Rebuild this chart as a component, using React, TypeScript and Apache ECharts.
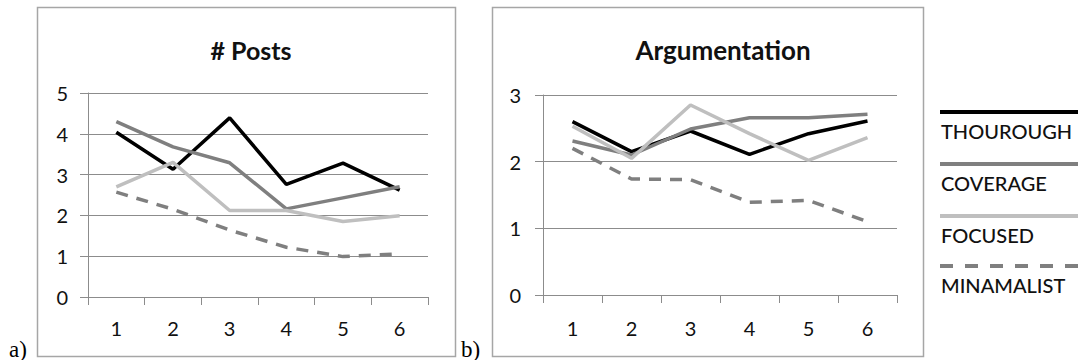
import React, { useEffect, useRef } from "react";
import * as echarts from "echarts";

const categories = ["1", "2", "3", "4", "5", "6"];
const seriesNames = ["THOUROUGH", "COVERAGE", "FOCUSED", "MINAMALIST"];
const chartTitles = ["# Posts", "Argumentation"];
const panelLabels = ["a)", "b)"];

const postsThourough = [4.04, 3.13, 4.39, 2.76, 3.28, 2.62];
const postsCoverage = [4.3, 3.68, 3.29, 2.16, 2.43, 2.7];
const postsFocused = [2.7, 3.3, 2.12, 2.12, 1.85, 1.99];
const postsMinamalist = [2.57, 2.15, 1.64, 1.22, 0.99, 1.06];

const argThourough = [2.6, 2.15, 2.46, 2.11, 2.42, 2.61];
const argCoverage = [2.31, 2.1, 2.49, 2.66, 2.66, 2.71];
const argFocused = [2.53, 2.05, 2.85, 2.42, 2.02, 2.36];
const argMinamalist = [2.2, 1.74, 1.73, 1.39, 1.42, 1.1];

const postsMax = 5;
const argMax = 3;

const lineStyles = [
  { color: "#000000", type: "solid" as const },
  { color: "#7f7f7f", type: "solid" as const },
  { color: "#bfbfbf", type: "solid" as const },
  { color: "#7f7f7f", type: [12, 9] as any },
];

const FONT = "Lato, 'Open Sans', sans-serif";
const GRID_COLOR = "#8c8c8c";

export default function App() {
  const ref = useRef<HTMLDivElement>(null);

  useEffect(() => {
    document.body.style.margin = "0";
    if (!ref.current) return;
    const chart = echarts.init(ref.current, undefined, { renderer: "svg" });

    const postsData = [postsThourough, postsCoverage, postsFocused, postsMinamalist];
    const argData = [argThourough, argCoverage, argFocused, argMinamalist];

    const makeX = (gridIndex: number, margin: number) => ({
      type: "category" as const,
      gridIndex,
      data: categories,
      boundaryGap: true,
      axisLine: { show: true, lineStyle: { color: GRID_COLOR, width: 1 } },
      axisTick: { show: true, length: 8, lineStyle: { color: GRID_COLOR } },
      axisLabel: { color: "#111", fontSize: 20, fontFamily: FONT, margin },
      splitLine: { show: false },
    });

    const makeY = (gridIndex: number, max: number, margin: number) => ({
      type: "value" as const,
      gridIndex,
      min: 0,
      max,
      interval: 1,
      axisLine: { show: true, lineStyle: { color: GRID_COLOR, width: 1 } },
      axisTick: { show: true, length: 8, lineStyle: { color: GRID_COLOR } },
      axisLabel: { color: "#111", fontSize: 20, fontFamily: FONT, margin },
      splitLine: { show: true, lineStyle: { color: GRID_COLOR, width: 1 } },
    });

    const series: any[] = [];
    [postsData, argData].forEach((group, gi) => {
      group.forEach((vals, si) => {
        series.push({
          type: "line",
          name: seriesNames[si],
          xAxisIndex: gi,
          yAxisIndex: gi,
          data: vals,
          showSymbol: false,
          symbol: "none",
          lineStyle: { color: lineStyles[si].color, width: 3.5, type: lineStyles[si].type },
          z: 2 + si,
        });
      });
    });

    const legendY = [112, 164, 216, 266];
    const legendGraphics: any[] = [];
    seriesNames.forEach((name, i) => {
      legendGraphics.push({
        type: "line",
        shape: { x1: 940, y1: legendY[i], x2: 1080, y2: legendY[i] },
        style: {
          stroke: lineStyles[i].color,
          lineWidth: 4,
          lineDash: i === 3 ? [13, 12] : null,
        },
      });
      legendGraphics.push({
        type: "text",
        x: 941,
        y: legendY[i] + 19,
        style: {
          text: name,
          fill: "#111",
          font: `500 20px ${FONT}`,
          textVerticalAlign: "middle",
          textAlign: "left",
        },
      });
    });

    chart.setOption({
      animation: false,
      backgroundColor: "#ffffff",
      title: [
        {
          text: chartTitles[0],
          left: 246,
          top: 32,
          textAlign: "center",
          textStyle: { fontFamily: FONT, fontWeight: "bold", fontSize: 25, color: "#111" },
        },
        {
          text: chartTitles[1],
          left: 718,
          top: 32,
          textAlign: "center",
          textStyle: { fontFamily: FONT, fontWeight: "bold", fontSize: 26, color: "#111" },
        },
      ],
      grid: [
        { left: 88, right: 1078 - 428, top: 93, bottom: 360 - 297, containLabel: false },
        { left: 543, right: 1078 - 897, top: 95, bottom: 360 - 295, containLabel: false },
      ],
      xAxis: [makeX(0, 21), makeX(1, 23)],
      yAxis: [makeY(0, postsMax, 20), makeY(1, argMax, 22)],
      series,
      graphic: [
        {
          type: "rect",
          shape: { x: 37.5, y: 7.5, width: 418, height: 349 },
          style: { fill: "none", stroke: "#a6a6a6", lineWidth: 1.5 },
          silent: true,
        },
        {
          type: "rect",
          shape: { x: 492.5, y: 7.5, width: 431, height: 349 },
          style: { fill: "none", stroke: "#a6a6a6", lineWidth: 1.5 },
          silent: true,
        },
        {
          type: "text",
          x: 9,
          y: 349,
          style: {
            text: panelLabels[0],
            fill: "#000",
            font: "23px 'Liberation Serif', serif",
            textVerticalAlign: "middle",
          },
        },
        {
          type: "text",
          x: 461,
          y: 349,
          style: {
            text: panelLabels[1],
            fill: "#000",
            font: "23px 'Liberation Serif', serif",
            textVerticalAlign: "middle",
          },
        },
        ...legendGraphics,
      ],
    });

    return () => {
      chart.dispose();
    };
  }, []);

  return <div ref={ref} style={{ width: 1078, height: 360 }} />;
}
